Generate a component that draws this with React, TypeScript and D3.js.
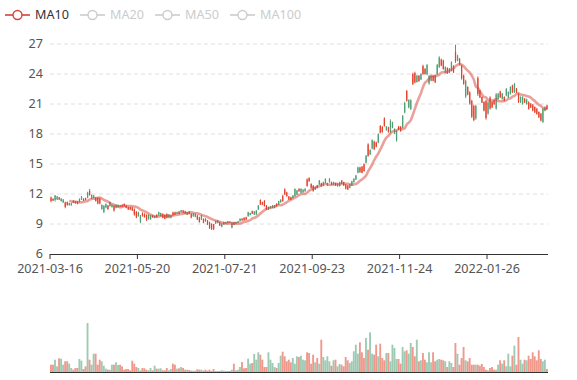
import React from 'react';
import * as d3 from 'd3';

// [open, close, low, high]
const ohlc: [number, number, number, number][] = [
  [11.30, 11.65, 11.17, 11.75], [11.35, 11.50, 11.30, 11.58], [11.85, 11.40, 11.23, 11.90], [11.75, 11.45, 11.40, 11.80],
  [11.45, 11.65, 11.40, 11.70], [11.55, 11.30, 11.23, 11.57], [11.45, 11.15, 11.10, 11.50], [10.70, 11.15, 10.57, 11.23],
  [10.90, 11.20, 10.83, 11.25], [11.10, 10.90, 10.83, 11.13], [11.05, 10.88, 10.83, 11.13], [11.12, 11.32, 11.10, 11.37],
  [11.08, 11.25, 11.03, 11.30], [11.00, 11.25, 10.97, 11.30], [11.50, 11.20, 11.17, 11.57], [11.75, 11.45, 11.40, 11.80],
  [11.35, 11.52, 11.30, 11.57], [11.40, 11.60, 11.37, 11.63], [12.15, 11.65, 11.57, 12.23], [11.90, 12.30, 11.83, 12.50],
  [11.90, 11.55, 11.50, 11.97], [11.85, 11.60, 11.57, 11.90], [11.30, 11.60, 11.23, 11.70], [11.05, 11.60, 10.97, 11.70],
  [11.05, 11.55, 10.97, 11.63], [10.90, 10.50, 10.43, 10.97], [10.80, 10.20, 10.07, 10.90], [11.00, 10.65, 10.57, 11.07],
  [10.50, 10.85, 10.40, 10.90], [11.20, 10.80, 10.73, 11.23], [10.90, 10.70, 10.63, 10.97], [10.35, 10.80, 10.23, 10.90],
  [10.92, 10.62, 10.57, 10.97], [10.90, 10.70, 10.63, 10.97], [10.72, 10.88, 10.70, 10.90], [10.75, 10.93, 10.70, 10.97],
  [10.78, 11.00, 10.73, 11.07], [10.60, 10.85, 10.57, 10.90], [10.45, 10.68, 10.40, 10.73], [10.45, 10.70, 10.40, 10.73],
  [10.35, 10.65, 10.30, 10.73], [9.95, 10.45, 9.83, 10.57], [9.65, 10.20, 9.57, 10.30], [10.15, 9.80, 9.73, 10.23],
  [9.85, 9.20, 9.07, 9.90], [9.80, 10.10, 9.73, 10.17], [9.70, 10.00, 9.63, 10.07], [9.40, 9.90, 9.30, 9.97],
  [9.92, 9.50, 9.43, 9.97], [9.85, 9.50, 9.40, 9.90], [9.66, 9.85, 9.63, 9.90], [9.80, 9.60, 9.57, 9.83],
  [9.68, 9.92, 9.63, 9.97], [10.20, 9.88, 9.83, 10.23], [10.10, 9.80, 9.73, 10.13], [9.62, 10.00, 9.57, 10.07],
  [9.52, 9.90, 9.47, 9.97], [9.62, 10.00, 9.57, 10.07], [9.95, 9.65, 9.57, 9.97], [9.85, 9.62, 9.57, 9.90],
  [9.88, 10.15, 9.83, 10.23], [9.95, 10.18, 9.90, 10.23], [10.20, 10.03, 10.00, 10.23], [10.02, 10.25, 9.97, 10.30],
  [10.37, 10.17, 10.13, 10.40], [10.12, 10.35, 10.07, 10.40], [10.05, 10.28, 10.00, 10.33], [10.20, 9.95, 9.90, 10.23],
  [10.00, 10.25, 9.97, 10.30], [9.65, 10.00, 9.57, 10.07], [10.03, 9.78, 9.73, 10.07], [10.02, 9.72, 9.67, 10.07],
  [9.45, 9.85, 9.40, 9.90], [9.20, 9.65, 9.13, 9.73], [9.85, 9.45, 9.40, 9.90], [9.12, 9.50, 9.07, 9.57],
  [9.28, 9.52, 9.23, 9.57], [8.95, 9.35, 8.90, 9.40], [8.60, 9.15, 8.50, 9.23], [8.50, 9.00, 8.40, 9.07],
  [8.48, 8.95, 8.40, 9.00], [9.30, 9.05, 9.00, 9.33], [9.35, 9.12, 9.07, 9.40], [8.85, 9.18, 8.80, 9.23],
  [9.03, 8.72, 8.67, 9.07], [9.20, 8.95, 8.90, 9.23], [9.20, 9.03, 9.00, 9.23], [9.10, 9.27, 9.07, 9.30],
  [9.10, 9.24, 9.07, 9.27], [9.18, 8.65, 8.57, 9.23], [8.95, 9.18, 8.90, 9.23], [9.20, 9.03, 9.00, 9.23],
  [9.27, 9.10, 9.07, 9.30], [9.53, 9.28, 9.23, 9.57], [9.36, 9.54, 9.33, 9.57], [9.37, 9.62, 9.33, 9.67],
  [9.44, 9.68, 9.40, 9.73], [10.18, 9.78, 9.73, 10.23], [10.10, 9.90, 9.87, 10.13], [10.04, 10.28, 10.00, 10.33],
  [10.25, 9.95, 9.90, 10.30], [10.35, 9.95, 9.90, 10.40], [10.85, 10.45, 10.40, 10.90], [10.95, 11.40, 10.90, 11.47],
  [10.93, 11.18, 10.90, 11.23], [10.80, 11.30, 10.73, 11.40], [10.45, 10.85, 10.40, 10.90], [10.70, 10.45, 10.40, 10.73],
  [10.77, 10.57, 10.53, 10.80], [10.85, 10.62, 10.57, 10.90], [10.88, 10.60, 10.57, 10.90], [10.77, 11.02, 10.73, 11.07],
  [11.30, 10.95, 10.90, 11.33], [11.43, 11.17, 11.13, 11.47], [11.28, 11.82, 11.23, 11.90], [11.95, 12.45, 11.90, 12.57],
  [11.78, 12.15, 11.73, 12.23], [11.45, 11.75, 11.40, 11.80], [11.43, 11.68, 11.40, 11.73], [11.85, 11.62, 11.57, 11.90],
  [12.50, 11.80, 11.73, 12.57], [12.35, 11.95, 11.90, 12.40], [12.27, 12.52, 12.23, 12.57], [12.52, 12.12, 12.07, 12.57],
  [12.43, 12.18, 12.13, 12.47], [12.53, 12.27, 12.23, 12.57], [12.80, 13.45, 12.73, 13.57], [13.27, 13.60, 13.23, 13.67],
  [12.62, 13.00, 12.57, 13.07], [12.30, 12.82, 12.23, 12.90], [12.70, 12.45, 12.40, 12.73], [12.60, 12.85, 12.57, 12.90],
  [13.35, 12.95, 12.90, 13.40], [12.78, 13.08, 12.73, 13.13], [13.18, 12.85, 12.80, 13.23], [13.52, 13.12, 13.07, 13.57],
  [13.10, 12.85, 12.80, 13.13], [13.53, 13.18, 13.13, 13.57], [12.93, 13.18, 12.90, 13.23], [13.20, 12.95, 12.90, 13.23],
  [12.83, 13.08, 12.80, 13.13], [13.03, 12.78, 12.73, 13.07], [13.18, 12.80, 12.73, 13.23], [13.03, 13.35, 13.00, 13.40],
  [12.85, 13.18, 12.80, 13.23], [12.52, 12.93, 12.47, 13.00], [12.45, 12.85, 12.40, 12.90], [12.95, 12.62, 12.57, 13.00],
  [13.28, 12.85, 12.80, 13.33], [13.52, 13.18, 13.13, 13.57], [13.85, 13.45, 13.40, 13.90], [14.65, 14.12, 14.07, 14.73],
  [14.18, 14.65, 14.13, 14.73], [14.12, 14.72, 14.07, 14.80], [14.30, 14.98, 14.23, 15.07], [15.82, 15.12, 15.07, 15.90],
  [15.80, 16.95, 15.73, 17.07], [16.40, 15.95, 15.90, 16.47], [17.38, 16.55, 16.47, 17.47], [16.48, 17.25, 16.40, 17.33],
  [16.72, 17.15, 16.67, 17.23], [17.98, 17.15, 17.07, 18.07], [18.13, 18.80, 18.07, 18.90], [18.20, 18.70, 18.13, 18.80],
  [18.80, 19.55, 18.73, 19.67], [18.75, 18.38, 18.33, 18.80], [18.18, 18.65, 18.13, 18.73], [19.30, 18.20, 18.07, 19.47],
  [19.15, 18.62, 18.57, 19.23], [18.50, 18.05, 18.00, 18.57], [18.30, 17.35, 17.23, 18.40], [18.43, 18.75, 18.40, 18.80],
  [18.28, 18.72, 18.23, 18.80], [19.80, 18.65, 18.57, 19.90], [21.10, 20.15, 20.07, 21.23], [21.30, 22.30, 21.23, 22.40],
  [21.40, 20.65, 20.57, 21.47], [21.38, 20.50, 20.40, 21.47], [23.00, 24.00, 22.90, 24.13], [23.15, 24.10, 23.07, 24.23],
  [23.82, 23.20, 23.13, 23.90], [23.28, 23.82, 23.23, 23.90], [24.00, 23.45, 23.40, 24.07], [24.00, 24.80, 23.93, 24.93],
  [24.00, 24.50, 23.93, 24.60], [24.90, 23.95, 23.87, 25.00], [23.80, 23.05, 22.93, 23.87], [23.80, 23.33, 23.27, 23.87],
  [23.32, 23.80, 23.27, 23.87], [23.18, 23.85, 23.10, 23.93], [24.90, 24.00, 23.93, 25.00], [25.65, 24.70, 24.60, 25.77],
  [24.85, 25.45, 24.77, 25.53], [24.50, 25.35, 24.43, 25.43], [24.70, 24.17, 24.10, 24.77], [24.07, 24.60, 24.00, 24.67],
  [24.55, 24.15, 24.10, 24.60], [25.18, 24.35, 24.27, 25.27], [24.17, 24.80, 24.10, 24.87], [25.30, 26.20, 25.10, 26.93],
  [25.85, 25.33, 25.27, 25.93], [24.95, 25.50, 24.87, 25.60], [23.55, 24.80, 23.43, 24.93], [23.00, 23.85, 22.93, 23.93],
  [23.30, 21.75, 21.60, 23.43], [21.95, 22.70, 21.87, 22.77], [21.05, 22.15, 20.93, 22.27], [19.75, 21.30, 19.60, 21.43],
  [19.40, 20.80, 19.27, 20.93], [20.80, 19.55, 19.43, 20.93], [22.00, 23.60, 21.80, 23.77], [21.65, 22.35, 21.60, 22.43],
  [21.15, 21.70, 21.10, 21.77], [20.35, 21.20, 20.27, 21.27], [19.60, 21.30, 19.43, 21.43], [21.15, 20.05, 19.93, 21.27],
  [20.55, 21.65, 20.43, 21.77], [20.65, 21.20, 20.60, 21.27], [20.97, 21.38, 20.93, 21.43], [21.95, 20.55, 20.43, 22.10],
  [22.03, 21.50, 21.43, 22.10], [21.67, 22.25, 21.60, 22.33], [22.03, 21.50, 21.43, 22.10], [21.32, 21.70, 21.27, 21.77],
  [22.50, 21.85, 21.77, 22.60], [22.20, 21.68, 21.60, 22.27], [22.70, 22.00, 21.93, 22.77], [22.18, 22.85, 22.10, 22.93],
  [23.00, 22.20, 22.10, 23.10], [22.15, 22.55, 22.10, 22.60], [21.20, 22.00, 21.10, 22.10], [21.70, 21.17, 21.10, 21.77],
  [21.70, 21.00, 20.93, 21.77], [21.15, 21.52, 21.10, 21.60], [21.45, 21.00, 20.93, 21.53], [20.52, 21.18, 20.43, 21.27],
  [20.65, 21.03, 20.60, 21.10], [20.35, 20.92, 20.27, 21.00], [20.17, 20.70, 20.10, 20.77], [20.00, 20.52, 19.93, 20.60],
  [19.67, 20.20, 19.60, 20.27], [19.35, 20.02, 19.27, 20.10], [20.50, 19.20, 19.10, 20.60], [20.70, 20.33, 20.27, 20.77],
  [20.48, 20.85, 20.43, 20.93],
];

const volumes: number[] = [
  73, 73, 123, 57, 137, 133, 73, 107, 107, 83, 40, 23, 40, 40, 130, 113, 30, 57, 490, 123,
  73, 183, 183, 73, 123, 107, 63, 33, 23, 23, 73, 73, 97, 70, 73, 57, 23, 30, 30, 17,
  113, 83, 50, 40, 17, 40, 37, 23, 17, 40, 17, 63, 33, 33, 37, 17, 17, 40, 17, 30,
  83, 73, 33, 37, 50, 40, 23, 23, 20, 13, 13, 13, 27, 23, 23, 13, 23, 13, 23, 10,
  30, 10, 10, 10, 17, 13, 10, 10, 10, 23, 83, 17, 23, 50, 100, 37, 40, 133, 83, 90,
  180, 123, 197, 173, 123, 50, 50, 197, 123, 90, 50, 40, 90, 163, 203, 157, 107, 123, 97, 140,
  83, 157, 150, 163, 123, 117, 197, 190, 83, 173, 97, 140, 83, 323, 150, 117, 157, 107, 63, 117,
  123, 57, 80, 73, 57, 150, 117, 90, 107, 207, 273, 183, 297, 197, 140, 340, 223, 397, 183, 173,
  273, 157, 283, 140, 117, 190, 190, 107, 273, 240, 130, 130, 83, 250, 207, 217, 183, 290, 250, 157,
  323, 107, 117, 190, 123, 97, 197, 97, 197, 107, 123, 130, 123, 117, 107, 50, 107, 90, 50, 290,
  183, 73, 140, 250, 117, 107, 140, 73, 73, 73, 73, 63, 80, 50, 23, 17, 40, 50, 23, 23,
  73, 117, 83, 117, 57, 183, 57, 163, 263, 73, 350, 123, 83, 123, 117, 163, 130, 197, 157, 117,
  217, 130, 107, 123, 30,
];

const xTickLabels = ['2021-03-16', '2021-05-20', '2021-07-21', '2021-09-23', '2021-11-24', '2022-01-26'];
const xTickInterval = 43;
const yTicks = [6, 9, 12, 15, 18, 21, 24, 27];
const legendNames = ['MA10', 'MA20', 'MA50', 'MA100'];

const UP = '#e2432e';
const DOWN = '#4f9e75';
const FONT = "'Noto Sans', 'DejaVu Sans', sans-serif";

export default function App() {
  const W = 577, H = 380;
  const left = 50, right = 548;
  const top = 44, bottom = 254;
  const volTop = 323, volBottom = 372;
  const n = Math.min(ohlc.length, volumes.length);
  const idx = d3.range(n);

  const x = d3.scaleBand<number>().domain(idx).range([left, right]).padding(0);
  const bw = x.bandwidth();
  const cx = (i: number) => (x(i) as number) + bw / 2;
  const y = d3.scaleLinear().domain([6, 27]).range([bottom, top]);
  const vy = d3.scaleLinear().domain([0, d3.max(volumes) as number]).range([volBottom, volTop]);

  const closes = ohlc.map(d => d[1]);
  const ma10: (number | null)[] = closes.map((_, i) =>
    i < 9 ? null : d3.mean(closes.slice(i - 9, i + 1)) as number);
  const line = d3.line<number | null>()
    .defined(d => d !== null)
    .x((_, i) => cx(i))
    .y(d => y(d as number))
    .curve(d3.curveMonotoneX);

  const legendX = [5, 80, 155, 230];

  return (
    <svg width={W} height={H} style={{ position: 'fixed', left: 0, top: 0, background: '#fff' }}
      fontFamily={FONT}>
      {/* legend */}
      {legendNames.map((name, k) => {
        const lx = legendX[k];
        const col = k === 0 ? '#d3443a' : '#cccccc';
        return (
          <g key={name}>
            <line x1={lx} x2={lx + 25} y1={15} y2={15} stroke={col} strokeWidth={1.6} />
            <circle cx={lx + 12.5} cy={15} r={4.5} fill="#fff" stroke={col} strokeWidth={1.4} />
            <text x={lx + 30} y={15} dy="0.35em" fontSize={12.6} fill={k === 0 ? '#333' : '#ccc'}>{name}</text>
          </g>
        );
      })}

      {/* grid lines */}
      {yTicks.filter(t => t !== 6).map(t => (
        <line key={t} x1={left} x2={right} y1={y(t)} y2={y(t)} stroke="#e0e0e0" strokeDasharray="4,3" />
      ))}
      {/* y labels */}
      {yTicks.map(t => (
        <text key={t} x={43} y={y(t)} dy="0.35em" textAnchor="end" fontSize={12.6} fill="#555">{t}</text>
      ))}

      {/* candles */}
      {ohlc.slice(0, n).map((d, i) => {
        const [o, c, lo, hi] = d;
        const up = c >= o;
        const col = up ? UP : DOWN;
        const xc = cx(i);
        const bodyW = bw * 0.62;
        const yT = y(Math.max(o, c));
        const yB = y(Math.min(o, c));
        return (
          <g key={i}>
            <line x1={xc} x2={xc} y1={y(hi)} y2={y(lo)} stroke={col} strokeWidth={0.9} />
            <rect x={xc - bodyW / 2} y={yT} width={bodyW} height={Math.max(0.8, yB - yT)} fill={col} />
          </g>
        );
      })}

      {/* MA10 */}
      <path d={line(ma10) || ''} fill="none" stroke="#d3443a" strokeOpacity={0.5} strokeWidth={2.6} />

      {/* x axis */}
      <line x1={left} x2={right} y1={bottom + 0.5} y2={bottom + 0.5} stroke="#333" />
      {xTickLabels.map((lab, k) => {
        const tx = (x(k * xTickInterval) as number);
        return (
          <g key={lab}>
            <line x1={tx} x2={tx} y1={bottom} y2={bottom + 5} stroke="#333" />
            <text x={tx} y={272.5} textAnchor="middle" fontSize={12.6} fill="#555">{lab}</text>
          </g>
        );
      })}

      {/* volume */}
      {volumes.slice(0, n).map((v, i) => {
        const up = ohlc[i][1] >= ohlc[i][0];
        return (
          <rect key={i} x={x(i) as number} y={vy(v)} width={bw * 0.92} height={volBottom - vy(v)}
            fill={up ? UP : DOWN} fillOpacity={0.55} />
        );
      })}
      <line x1={left} x2={right} y1={volBottom + 0.5} y2={volBottom + 0.5} stroke="#333" />
    </svg>
  );
}
